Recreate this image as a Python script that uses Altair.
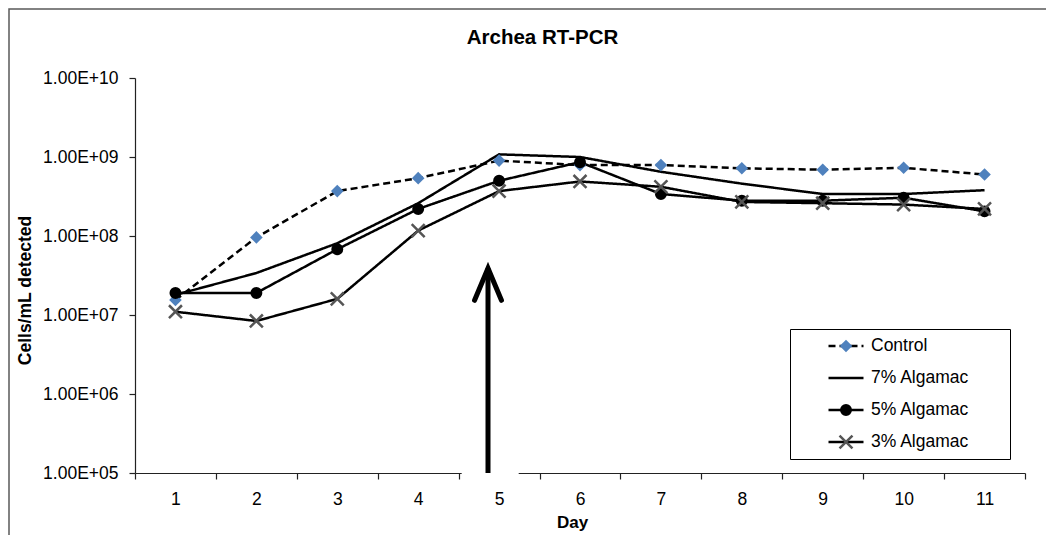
import altair as alt
import pandas as pd

# ---------------- data ----------------
days = list(range(1, 12))
series_names = ["Control", "7% Algamac", "5% Algamac", "3% Algamac"]
control = [1.55e7, 9.6e7, 3.7e8, 5.4e8, 9.0e8, 7.9e8, 7.9e8, 7.2e8, 6.9e8, 7.3e8, 6.0e8]
alg7 = [1.8e7, 3.4e7, 8.1e7, 2.6e8, 1.08e9, 1.0e9, 6.5e8, 4.6e8, 3.4e8, 3.4e8, 3.8e8]
alg5 = [1.9e7, 1.9e7, 6.8e7, 2.2e8, 5.0e8, 8.6e8, 3.4e8, 2.8e8, 2.8e8, 3.05e8, 2.05e8]
alg3 = [1.1e7, 8.4e6, 1.6e7, 1.17e8, 3.7e8, 4.9e8, 4.2e8, 2.7e8, 2.6e8, 2.5e8, 2.2e8]
y_ticks = [1e5, 1e6, 1e7, 1e8, 1e9, 1e10]
arrow_day = [5]
arrow_base = [1e5]
arrow_tip = [3.9e7]

marker_keys = ["m:" + s for s in series_names]
rows = []
for name, key, vals in zip(series_names, marker_keys, [control, alg7, alg5, alg3]):
    for d, v in zip(days, vals):
        rows.append({"Day": d, "Series": name, "Marker": key, "Value": v})
df = pd.DataFrame(rows)
arrow_df = pd.DataFrame({"Day": arrow_day, "Value": arrow_base, "Top": arrow_tip})
head_df = pd.DataFrame({"Day": arrow_day, "Value": arrow_tip})
cover_df = pd.DataFrame({"Day": arrow_day, "Value": arrow_base})

FONT = "Liberation Sans"

# ---------------- scales & axes ----------------
xscale = alt.Scale(type="band", paddingInner=0, paddingOuter=0)
yscale = alt.Scale(type="log", domain=[1e5, 1e10], nice=False)
xaxis = alt.Axis(title="Day", tickBand="extent", labelAngle=0, grid=False,
                 domainColor="#222222", tickColor="#222222", domainWidth=1.2, tickWidth=1.2,
                 tickSize=6, labelPadding=11, labelFont=FONT, labelFontSize=17.5,
                 labelColor="black", titleFont=FONT, titleFontSize=17,
                 titleFontWeight="bold", titleColor="black", titlePadding=7, titleX=437)
yaxis = alt.Axis(title="Cells/mL detected", values=y_ticks, grid=False,
                 labelExpr="'1.00E+' + (round(log(datum.value)/LN10) < 10 ? '0' : '') + round(log(datum.value)/LN10)",
                 domainColor="#222222", tickColor="#222222", domainWidth=1.2, tickWidth=1.2,
                 tickSize=6, labelPadding=11, labelFont=FONT, labelFontSize=17.5,
                 labelColor="black", titleFont=FONT, titleFontSize=17.5,
                 titleFontWeight="bold", titleColor="black", titlePadding=8, titleY=212)

def xenc(bp=0.5):
    return alt.X("Day:O", scale=xscale, axis=xaxis, bandPosition=bp)

yenc = alt.Y("Value:Q", scale=yscale, axis=yaxis)

# ---------------- legends ----------------
blank_pad = "\u2800" * 3
leg_common = dict(orient="none", legendX=655, legendY=251, title=None, padding=1,
                  clipHeight=32, rowPadding=0, symbolSize=1225, symbolStrokeWidth=2.5,
                  symbolOffset=36, labelOffset=6, labelFont=FONT, labelFontSize=17.5,
                  labelColor="black", labelLimit=400)
leg_lines = alt.Legend(symbolType="stroke", strokeColor="black",
                       symbolStrokeColor="black", zindex=1,
                       labelExpr="datum.label + '" + blank_pad + "'", **leg_common)
leg_marks = alt.Legend(labelExpr="''", zindex=2, **leg_common)

diamond = "M0,-0.36L0.36,0L0,0.36L-0.36,0Z"
circle = "M-0.27,0A0.27,0.27,0,1,0,0.27,0A0.27,0.27,0,1,0,-0.27,0Z"
xmark = "M-0.37,-0.37L0.37,0.37M-0.37,0.37L0.37,-0.37"
empty = "M0,0"

# ---------------- layers ----------------
border = alt.Chart(alt.Data(values=[{"k": 1}])).mark_rect(
    fill="transparent", stroke="#5a5a5a", strokeWidth=1.5
).encode(x=alt.value(-126), y=alt.value(-69), x2=alt.value(960), y2=alt.value(530))

lines = alt.Chart(df).mark_line(color="black", strokeWidth=2.5).encode(
    x=xenc(), y=yenc,
    strokeDash=alt.StrokeDash("Series:N",
                              scale=alt.Scale(domain=series_names,
                                              range=[[7, 4], [1, 0], [1, 0], [1, 0]]),
                              legend=leg_lines),
)

points = alt.Chart(df).mark_point(size=1225, strokeWidth=2.5, opacity=1).encode(
    x=xenc(), y=yenc,
    shape=alt.Shape("Marker:N", scale=alt.Scale(domain=marker_keys,
                                                 range=[diamond, empty, circle, xmark]),
                    legend=leg_marks),
    fill=alt.Fill("Marker:N", scale=alt.Scale(domain=marker_keys,
                                               range=["#4F81BD", "transparent", "black", "transparent"]),
                  legend=leg_marks),
    stroke=alt.Stroke("Marker:N", scale=alt.Scale(domain=marker_keys,
                                                   range=["transparent", "transparent", "black", "#555555"]),
                      legend=leg_marks),
)

cover = alt.Chart(cover_df).mark_point(
    shape="M-1,-0.2H1V0.2H-1Z", size=3249, filled=True, fill="white", stroke="white",
    strokeWidth=0, opacity=1
).encode(x=xenc(0.39), y=yenc)

shaft = alt.Chart(arrow_df).mark_rule(color="black", strokeWidth=5).encode(
    x=xenc(0.363), y=yenc, y2=alt.Y2("Top:Q"))

head = alt.Chart(head_df).mark_point(
    shape="M-0.42,1L0,0L0.42,1", size=4096, filled=False, stroke="black",
    strokeWidth=5, strokeJoin="miter", strokeCap="round", opacity=1
).encode(x=xenc(0.363), y=yenc)

chart = alt.layer(border, lines, points, cover, shaft, head).properties(
    width=890, height=395,
    autosize=alt.AutoSizeParams(type="none"),
    padding={"left": 127, "top": 70, "right": 21, "bottom": 62},
    title=alt.TitleParams("Archea RT-PCR", font=FONT, fontSize=20.5, fontWeight="bold",
                          color="black", anchor="middle", dx=-37.5, offset=-40.5),
).configure_view(stroke=None)

chart.save("out.html", embed_options={"renderer": "svg", "actions": False})
